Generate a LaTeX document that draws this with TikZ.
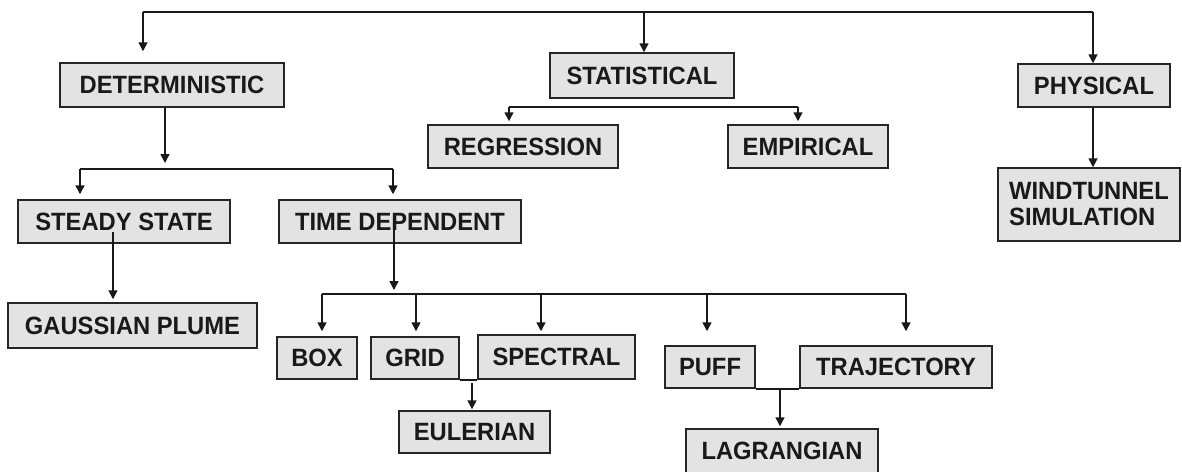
\documentclass[tikz,border=0pt]{standalone}
\usepackage{fontspec}
\setmainfont[FakeStretch=0.95]{Liberation Sans}
\usetikzlibrary{arrows.meta}
\tikzset{
  bx/.style={draw=black!85, fill=black!11, line width=1.5pt, inner sep=0pt,
    font=\bfseries\fontsize{25}{26}\selectfont, text=black!90},
  ln/.style={draw=black!90, line width=1.5pt},
  arr/.style={ln, -{Triangle[width=9pt,length=9pt]}},
}
\begin{document}
\begin{tikzpicture}[x=1pt,y=-1pt]
\useasboundingbox[fill=white] (0,0) rectangle (1182,471);
% nodes
\node[bx, minimum width=224, minimum height=44] (DET) at (172,85) {DETERMINISTIC};
\node[bx, minimum width=184, minimum height=45] (STAT) at (642,75.5) {STATISTICAL};
\node[bx, minimum width=152, minimum height=43] (PHYS) at (1094,85.5) {PHYSICAL};
\node[bx, minimum width=190, minimum height=43] (REG) at (523,146.5) {REGRESSION};
\node[bx, minimum width=160, minimum height=43] (EMP) at (808,146.5) {EMPIRICAL};
\node[bx, minimum width=182, minimum height=73, align=left] (WIND) at (1089,204.5) {WINDTUNNEL\\SIMULATION};
\node[bx, minimum width=212, minimum height=43] (SS) at (124,221.5) {STEADY STATE};
\node[bx, minimum width=242, minimum height=43] (TD) at (400,221.5) {TIME DEPENDENT};
\node[bx, minimum width=249, minimum height=45] (GP) at (132.5,325.5) {GAUSSIAN PLUME};
\node[bx, minimum width=80, minimum height=42] (BOX) at (317,358) {BOX};
\node[bx, minimum width=88, minimum height=42] (GRID) at (415,358) {GRID};
\node[bx, minimum width=157, minimum height=44] (SPEC) at (556.5,357) {SPECTRAL};
\node[bx, minimum width=151, minimum height=42] (EUL) at (474.5,432) {EULERIAN};
\node[bx, minimum width=90, minimum height=42] (PUFF) at (710,367) {PUFF};
\node[bx, minimum width=192, minimum height=42] (TRAJ) at (896,367) {TRAJECTORY};
\node[bx, minimum width=192, minimum height=44] (LAG) at (782,451) {LAGRANGIAN};
% top level connectors
\coordinate (tl) at (143,12);
\coordinate (tr) at (1093,12);
\coordinate (tm) at (644,12);
\draw[ln] (tl) -- (tr);
\draw[arr, shorten >=11pt] (tl) -- (tl |- DET.north);
\draw[arr] (tm) -- (tm |- STAT.north);
\draw[arr] (tr) -- (tr |- PHYS.north);
\draw[arr] (PHYS.south -| tr) -- (tr |- WIND.north);
% statistical branch
\coordinate (sl) at (509,107);
\coordinate (sr) at (798,107);
\draw[ln] (sl) -- (sr);
\draw[arr, shorten >=3pt] (sl) -- (sl |- REG.north);
\draw[arr, shorten >=3pt] (sr) -- (sr |- EMP.north);
% deterministic branch
\coordinate (dj) at (165,169);
\coordinate (dl) at (80,169);
\coordinate (dr) at (393,169);
\draw[arr, shorten >=6pt] (DET.south -| dj) -- (dj);
\draw[ln] (dl) -- (dr);
\draw[arr, shorten >=5pt] (dl) -- (dl |- SS.north);
\draw[arr, shorten >=5pt] (dr) -- (dr |- TD.north);
% steady state
\coordinate (ssout) at (113,232);
\draw[arr, shorten >=3pt] (ssout) -- (ssout |- GP.north);
% time dependent
\coordinate (tdout) at (394,227);
\coordinate (tj) at (394,294);
\coordinate (hl) at (322,294);
\coordinate (hr) at (906,294);
\coordinate (gx) at (416,294);
\coordinate (sx) at (541,294);
\coordinate (px) at (707,294);
\draw[arr, shorten >=4pt] (tdout) -- (tj);
\draw[ln] (hl) -- (hr);
\draw[arr, shorten >=5pt] (hl) -- (hl |- BOX.north);
\draw[arr, shorten >=5pt] (gx) -- (gx |- GRID.north);
\draw[arr, shorten >=3pt] (sx) -- (sx |- SPEC.north);
\draw[arr, shorten >=14pt] (px) -- (px |- PUFF.north);
\draw[arr, shorten >=14pt] (hr) -- (hr |- TRAJ.north);
% eulerian
\draw[ln] (GRID.south east) -- (SPEC.south west);
\coordinate (ej) at (472,383);
\draw[arr, shorten >=1pt] (ej) -- (ej |- EUL.north);
% lagrangian
\draw[ln] (PUFF.south east) -- (TRAJ.south west);
\coordinate (lj) at (780,388);
\draw[arr, shorten >=2pt] (lj) -- (lj |- LAG.north);
\end{tikzpicture}
\end{document}
